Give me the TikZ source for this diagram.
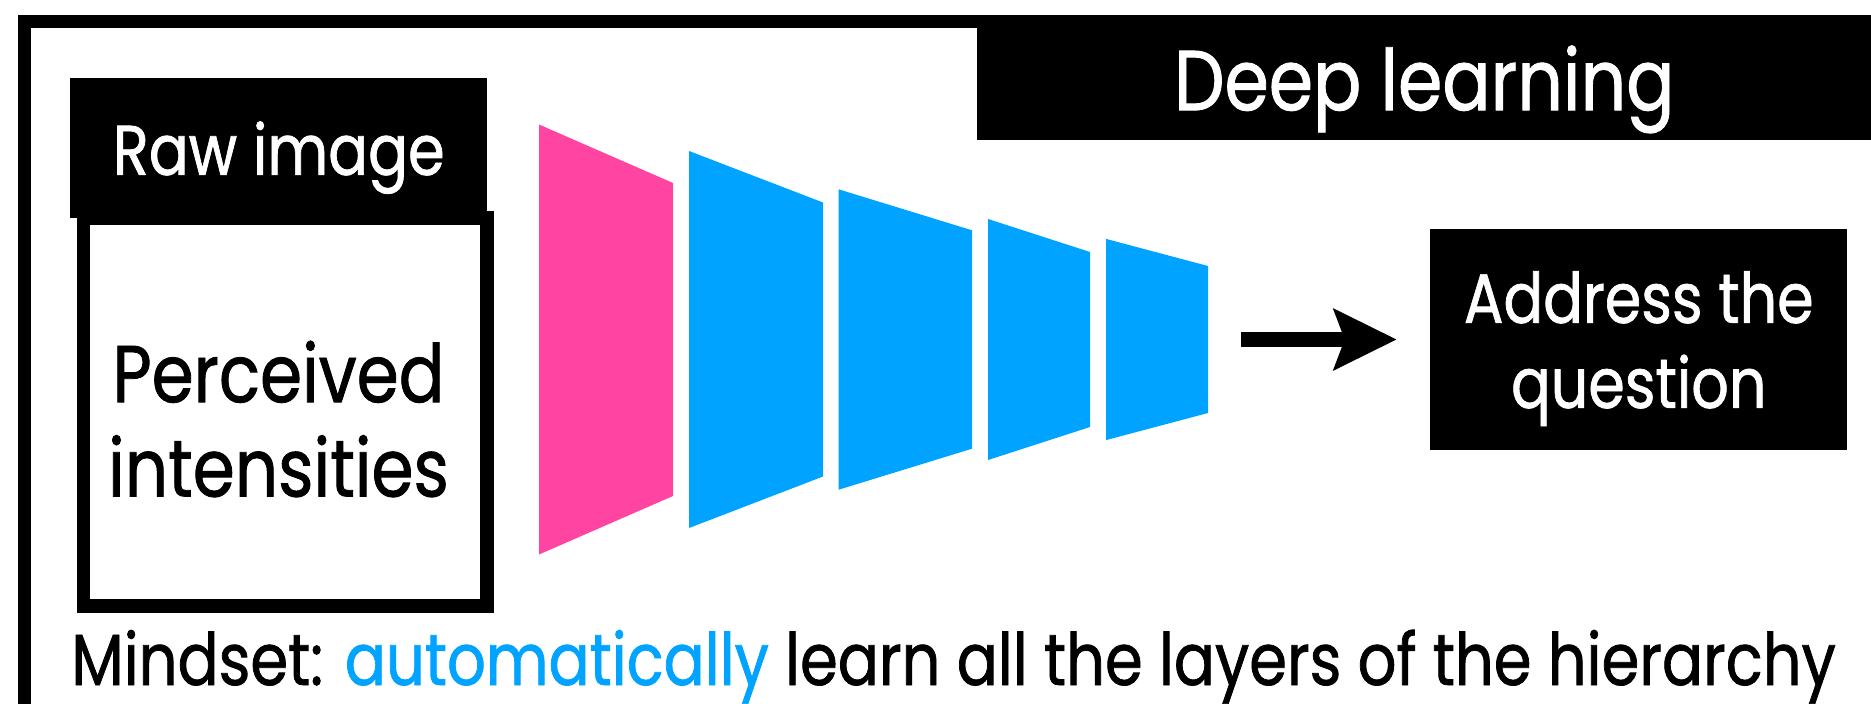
\documentclass[tikz,border=0pt]{standalone}
\usepackage{fontspec}
\setmainfont{Poppins}[FakeStretch=0.84,FakeBold=1.0]
\usetikzlibrary{arrows.meta}
\definecolor{layerpink}{RGB}{255,68,161}
\definecolor{layerblue}{RGB}{0,163,255}

\begin{document}
\begin{tikzpicture}[x=0.02cm,y=-0.02cm,
  blackbox/.style={fill=black,text=white,inner sep=0pt,align=center,text depth=0pt},
  plaintext/.style={inner sep=0pt,align=center}]
\useasboundingbox (0,0) rectangle (1871,703);
% frame round the whole slide
\draw[line width=0.26cm] (977,21.5) -- (24.5,21.5) -- (24.5,720);
\node[blackbox,anchor=north west,minimum width=17.88cm,minimum height=2.5cm,
  font=\fontsize{48.4}{58}\selectfont] (deep) at (977,15) {Deep learning};
% raw image box
\node[draw,line width=0.27cm,anchor=north west,minimum width=8.07cm,minimum height=7.765cm] (rawbody) at (76.75,211) {};
\node[blackbox,anchor=north west,minimum width=8.34cm,minimum height=2.79cm,
  font=\fontsize{40}{48}\selectfont] (rawhead) at (70,78) {Raw image};
\node[plaintext,font=\fontsize{45.9}{53.7}\selectfont] (perceived) at (278.5,419) {Perceived\\intensities};
% layers
\foreach \xa/\xb/\ha/\hb/\col in {539/673/215/156.5/layerpink,689/823/188.5/137/layerblue,
  838.6/972/150.2/109.2/layerblue,988/1090/120.5/87.5/layerblue,1106/1208/100.6/73.5/layerblue}
  \fill[\col] (\xa,339.5-\ha) -- (\xb,339.5-\hb) -- (\xb,339.5+\hb) -- (\xa,339.5+\ha) -- cycle;
\coordinate (layerout) at (1208,339.5);
\node[blackbox,minimum width=8.35cm,minimum height=4.42cm,
  font=\fontsize{39.8}{48.4}\selectfont] (answer) at (1638.75,339.5) {Address the\\question};
\draw[-{Stealth[length=1.274cm,width=1.26cm,inset=0.24cm,line width=0pt]},line width=0.31cm,
  shorten <=0.66cm,shorten >=0.666cm] (layerout) -- (answer);
\node[plaintext,anchor=base west,font=\fontsize{41.2}{50}\selectfont] (mindset) at (71,685)
  {Mindset: \textcolor{layerblue}{automatically} learn all the layers of the hierarchy};
\end{tikzpicture}
\end{document}
